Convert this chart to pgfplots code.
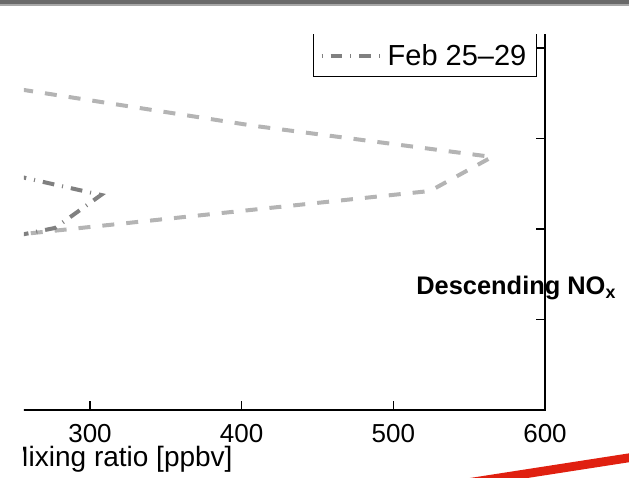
\documentclass[border=0pt]{standalone}
\usepackage{pgfplots}
\pgfplotsset{compat=1.18}
\usepackage{fontspec}
\setmainfont{Liberation Sans}
\definecolor{lgray}{RGB}{180,180,180}
\definecolor{dgray}{RGB}{128,128,128}
\definecolor{redline}{RGB}{224,32,16}
\definecolor{banddark}{RGB}{106,106,106}
\definecolor{bandlight}{RGB}{168,168,168}
\begin{document}
\begin{tikzpicture}
\useasboundingbox (0,0) rectangle (314.5pt,239pt);
\begin{scope}
\clip (12pt,0pt) rectangle (314.5pt,221.5pt);
\begin{axis}[
  at={(272.5pt,34pt)}, anchor=south east,
  scale only axis, width=424.65pt, height=194.6pt,
  xmin=40, xmax=600, ymin=0, ymax=4.3,
  xtick={100,200,300,400,500,600},
  ytick={0,1,2,3,4}, yticklabels={},
  tick align=inside, major tick length=4.5pt,
  axis line style={line width=0.75pt, black},
  every tick/.style={line width=0.75pt, black},
  /pgf/number format/assume math mode=true,
  xticklabel style={font=\fontsize{13}{15}\selectfont, yshift=-3.5pt},
  xlabel={Mixing ratio [ppbv]},
  xlabel style={at={(axis description cs:0.6326,0)}, anchor=base east, inner sep=0pt, yshift=-28.5pt, font=\fontsize{14}{16}\selectfont},
  legend style={at={(axis description cs:0.9906,0.8557)}, anchor=south east, draw=black, line width=0.65pt, font=\fontsize{14.5}{17}\selectfont},
  legend image code/.code={\draw[#1] (0pt,0pt) -- (30pt,0pt);},
  legend cell align=left,
]
\addplot[lgray, line width=2pt, dash pattern=on 6pt off 6pt] coordinates {
  (207.7,3.663) (408.8,3.138) (565.1,2.796) (524.2,2.420) (256.5,1.945) (207.7,1.856)};
\addlegendentry{\vphantom{Feb}}
\addplot[dgray, line width=2pt, dash pattern=on 0.5pt off 4pt on 5.85pt off 4pt] coordinates {
  (207.7,2.751) (307.3,2.376) (276.9,2.011) (207.7,1.779)};
\addlegendentry{Feb 25--29}
\end{axis}
\end{scope}
\node[anchor=base west, font=\bfseries\fontsize{12.7}{14}\selectfont, inner sep=0pt] at (208pt,91.5pt) {Descending NO\textsubscript{x}};
\fill[banddark] (0pt,237pt) rectangle (314.5pt,239pt);
\fill[bandlight] (0pt,236pt) rectangle (314.5pt,237pt);
\begin{scope}
\clip (0pt,0pt) rectangle (314.5pt,239pt);
\draw[redline, line width=4.4pt] (230pt,-3pt) -- (320pt,10.95pt);
\end{scope}
\end{tikzpicture}
\end{document}
